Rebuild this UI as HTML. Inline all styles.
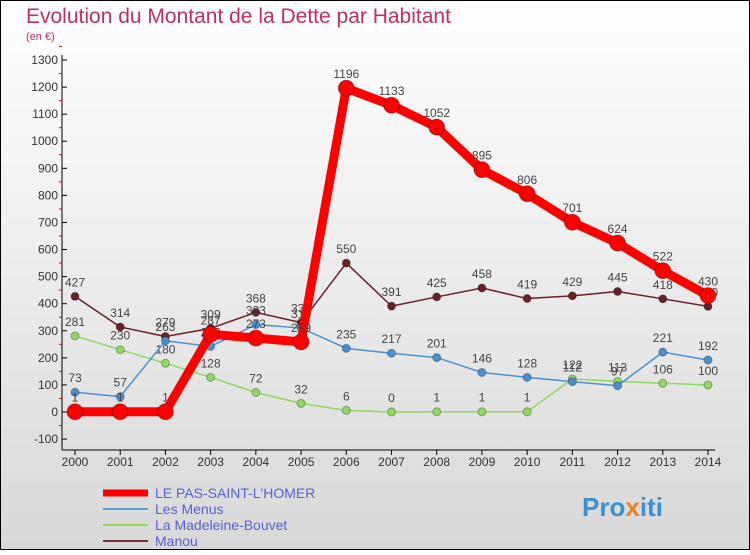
<!DOCTYPE html>
<html><head><meta charset="utf-8"><style>
body{margin:0;width:750px;height:550px;overflow:hidden;font-family:"Liberation Sans",sans-serif}
</style></head><body>
<svg width="750" height="550" xmlns="http://www.w3.org/2000/svg">
<defs><linearGradient id="bg" x1="0" y1="0" x2="0" y2="1"><stop offset="0" stop-color="#ffffff"/><stop offset="1" stop-color="#d8d8d8"/></linearGradient></defs>
<rect x="0.5" y="0.5" width="749" height="549" fill="url(#bg)" stroke="#000"/>
<text x="26" y="23" font-size="21" fill="#c0305a">Evolution du Montant de la Dette par Habitant</text>
<text x="26" y="40" font-size="11" fill="#c0305a">(en €)</text>
<g id="axes"></g><g id="series"></g>
<g font-size="14">
<line x1="103" y1="493" x2="148" y2="493" stroke="#f00" stroke-width="7"/>
<text x="155" y="498" fill="#5560d8">LE PAS-SAINT-L'HOMER</text>
<line x1="103" y1="509" x2="148" y2="509" stroke="#5aa0d8" stroke-width="2"/>
<text x="155" y="514" fill="#5560d8">Les Menus</text>
<line x1="103" y1="525" x2="148" y2="525" stroke="#90d860" stroke-width="2"/>
<text x="155" y="530" fill="#5560d8">La Madeleine-Bouvet</text>
<line x1="103" y1="541" x2="148" y2="541" stroke="#7a3038" stroke-width="2"/>
<text x="155" y="546" fill="#5560d8">Manou</text>
</g>
<text x="582" y="516" font-size="26" font-weight="bold" fill="#3a90d0">Pro<tspan fill="#f08020">x</tspan>iti</text>
</svg>
<script>
const years=["2000","2001","2002","2003","2004","2005","2006","2007","2008","2009","2010","2011","2012","2013","2014"];
const yTicks=[-100,0,100,200,300,400,500,600,700,800,900,1000,1100,1200,1300];
const pasValues=[1,1,1,287,273,259,1196,1133,1052,895,806,701,624,522,430];
const menusValues=[73,57,263,242,323,310,235,217,201,146,128,112,97,221,192];
const madeleineValues=[281,230,180,128,72,32,6,0,1,1,1,122,113,106,100];
const manouValues=[427,314,279,309,368,330,550,391,425,458,419,429,445,418,390];
const NS="http://www.w3.org/2000/svg";
const X=i=>75+i*(708-75)/(years.length-1);
const Y=v=>412-v*(412-60)/1300;
function mk(t,a,p){const e=document.createElementNS(NS,t);for(const k in a)e.setAttribute(k,a[k]);p.appendChild(e);return e;}
const ax=document.getElementById('axes');
let l=mk('line',{x1:62,y1:55,x2:62,y2:450,stroke:'#000'},ax);


l=mk('line',{x1:62,y1:450,x2:715,y2:450,stroke:'#000'},ax);


yTicks.forEach(v=>{const y=Y(v);
mk('line',{x1:62,y1:y,x2:67,y2:y,stroke:'#000'},ax);
mk('line',{x1:59,y1:Y(v+50),x2:62,y2:Y(v+50),stroke:'#e00'},ax);
const t=mk('text',{x:58,y:y+4,'text-anchor':'end','font-size':12,fill:'#333'},ax);t.textContent=v;

});
years.forEach((yr,i)=>{mk('line',{x1:X(i),y1:450,x2:X(i),y2:455,stroke:'#000'},ax);
const t=mk('text',{x:X(i),y:466,'text-anchor':'middle','font-size':12,fill:'#333'},ax);t.textContent=yr;

});
const sg=document.getElementById('series');
function draw(vals,color,w,r,name){const g=mk('g',{},sg);


mk('polyline',{points:vals.map((v,i)=>X(i)+','+Y(v)).join(' '),fill:'none',stroke:color,'stroke-width':w,'stroke-linejoin':'round'},g);
vals.forEach((v,i)=>{const c=mk('circle',{cx:X(i),cy:Y(v),r:r,fill:color,stroke:'rgba(0,0,0,0.3)'},g);


const t=mk('text',{x:X(i),y:Y(v)-10,'text-anchor':'middle','font-size':12,fill:'#444'},g);t.textContent=v;

});}
draw(manouValues,'#6a2028',1.5,4,'series-manou');
draw(madeleineValues,'#90d860',1.5,4,'series-madeleine');
draw(menusValues,'#4a90d0',1.5,4,'series-menus');
draw(pasValues,'#f00',9,8,'series-pas');
</script>
</body></html>
